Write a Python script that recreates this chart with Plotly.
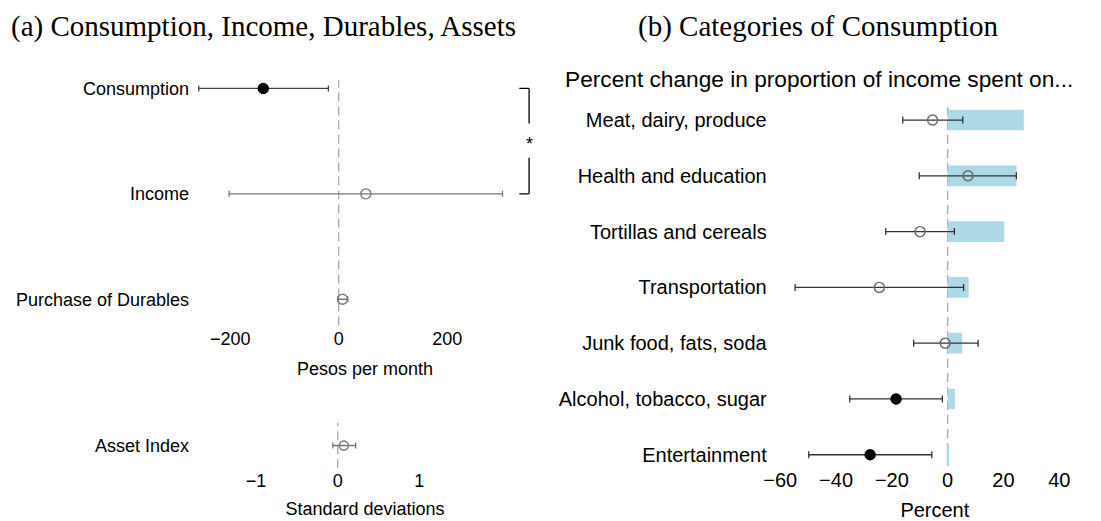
import plotly.graph_objects as go

# ---------------- data ----------------
left_cats = ["Consumption", "Income", "Purchase of Durables"]
left_est = [-139, 50, 7]
left_lo = [-258, -202, -1]
left_hi = [-19, 302, 17]
left_sig = [True, False, False]

asset_cats = ["Asset Index"]
asset_est = [0.075]
asset_lo = [-0.06]
asset_hi = [0.22]

right_cats = ["Meat, dairy, produce", "Health and education", "Tortillas and cereals",
              "Transportation", "Junk food, fats, soda", "Alcohol, tobacco, sugar",
              "Entertainment"]
right_bar = [27.3, 24.7, 20.3, 7.5, 5.2, 2.6, 0.5]
right_est = [-5.4, 7.3, -9.9, -24.5, -0.9, -18.5, -27.8]
right_lo = [-16.1, -10.2, -22.2, -54.7, -12.2, -35.1, -49.8]
right_hi = [5.4, 24.6, 2.4, 5.7, 10.9, -1.9, -5.7]
right_sig = [False, False, False, False, False, True, True]

pesos_ticks = [-200, 0, 200]
sd_ticks = [-1, 0, 1]
pct_ticks = [-60, -40, -20, 0, 20, 40]

# ---------------- layout helpers ----------------
W, H = 1101, 521
def xd(a, b):
    return [a / W, b / W]
def yd(top, bottom):
    return [1 - bottom / H, 1 - top / H]
def lab(v):
    return ("\u2212" + str(abs(v))) if v < 0 else str(v)

SANS = "Liberation Sans, Arial, sans-serif"
SERIF = "Liberation Serif, Times New Roman, serif"

fig = go.Figure()

def add_points(cats, est, lo, hi, sig, xa, ya, sig_col, ns_col, bar_col_sig, bar_col_ns, size_sig, size_ns, capw):
    for flag in (False, True):
        idx = [i for i in range(len(cats)) if sig[i] == flag]
        if not idx:
            continue
        fig.add_trace(go.Scatter(
            x=[est[i] for i in idx], y=[cats[i] for i in idx],
            xaxis=xa, yaxis=ya, mode="markers", showlegend=False,
            marker=dict(symbol="circle" if flag else "circle-open",
                        size=size_sig if flag else size_ns,
                        color=sig_col if flag else ns_col,
                        line=dict(width=1.4, color=sig_col if flag else ns_col)),
            error_x=dict(type="data", symmetric=False,
                         array=[hi[i] - est[i] for i in idx],
                         arrayminus=[est[i] - lo[i] for i in idx],
                         color=bar_col_sig if flag else bar_col_ns,
                         thickness=1.3, width=capw),
            cliponaxis=False,
        ))

fig.add_trace(go.Bar(
    x=right_bar, y=right_cats, orientation="h", xaxis="x3", yaxis="y3",
    width=0.37, marker=dict(color="#ADD8E6", line=dict(width=0)), showlegend=False,
))

add_points(left_cats, left_est, left_lo, left_hi, left_sig, "x", "y",
           "black", "#777777", "#444444", "#777777", 10, 10, 3)
add_points(asset_cats, asset_est, asset_lo, asset_hi, [False], "x2", "y2",
           "black", "#777777", "#444444", "#777777", 10, 9, 3)
add_points(right_cats, right_est, right_lo, right_hi, right_sig, "x3", "y3",
           "black", "#666666", "#333333", "#333333", 10, 10, 3.5)

axis_common = dict(showgrid=False, zeroline=False, showline=False, ticks="",
                   fixedrange=True, automargin=False)

fig.update_layout(
    width=W, height=H,
    margin=dict(l=0, r=0, t=0, b=0, autoexpand=False),
    paper_bgcolor="white", plot_bgcolor="white",
    font=dict(family=SANS, color="black"),
    showlegend=False,
    xaxis=dict(domain=xd(190, 540), range=[-274.1, 371.1], anchor="y",
               tickvals=pesos_ticks, ticktext=[lab(v) for v in pesos_ticks],
               tickfont=dict(size=18),
               title=dict(text="Pesos per month", font=dict(size=18), standoff=14),
               **axis_common),
    yaxis=dict(domain=yd(80, 325.6), anchor="x", type="category",
               categoryorder="array", categoryarray=left_cats[::-1],
               range=[-0.25, 2.08], tickfont=dict(size=18), **axis_common),
    xaxis2=dict(domain=xd(190, 540), range=[-1.810, 2.479], anchor="y2",
                tickvals=sd_ticks, ticktext=[lab(v) for v in sd_ticks],
                tickfont=dict(size=18),
                title=dict(text="Standard deviations", font=dict(size=18), standoff=12),
                **axis_common),
    yaxis2=dict(domain=yd(422.7, 468.3), anchor="x2", type="category",
                range=[-0.5, 0.5], tickfont=dict(size=18), **axis_common),
    xaxis3=dict(domain=xd(774.7, 1095), range=[-62, 52.8], anchor="y3",
                tickvals=pct_ticks, ticktext=[lab(v) for v in pct_ticks],
                tickfont=dict(size=20),
                title=dict(text="Percent", font=dict(size=20), standoff=18),
                **axis_common),
    yaxis3=dict(domain=yd(107.2, 465.9), anchor="x3", type="category",
                categoryorder="array", categoryarray=right_cats[::-1],
                range=[-0.2, 6.23], tickfont=dict(size=20), ticklabelstandoff=7,
                **axis_common),
)

dash = dict(color="#AAAAAA", width=1.3, dash="9px,5px")
for xr, yr in (("x", "y"), ("x2", "y2"), ("x3", "y3")):
    fig.add_shape(type="line", xref=xr, yref=yr + " domain", x0=0, x1=0, y0=0, y1=1,
                  line=dash, layer="below")

bk = dict(color="black", width=1.3)
fig.add_shape(type="line", xref="x", yref="y", x0=351, x1=351, y0=2, y1=1.668, line=bk)
fig.add_shape(type="line", xref="x", yref="y", x0=351, x1=351, y0=1.342, y1=1, line=bk)
fig.add_shape(type="line", xref="x", yref="y", x0=333, x1=351, y0=2, y1=2, line=bk)
fig.add_shape(type="line", xref="x", yref="y", x0=333, x1=351, y0=1, y1=1, line=bk)
fig.add_annotation(x=351, y=1.5, xref="x", yref="y", text="*", showarrow=False,
                   font=dict(size=18, family=SANS), yshift=-3)

fig.add_annotation(x=263.5 / W, y=1 - 26 / H, xref="paper", yref="paper",
                   text="(a) Consumption, Income, Durables, Assets", showarrow=False,
                   xanchor="center", yanchor="middle", font=dict(size=29, family=SERIF))
fig.add_annotation(x=818 / W, y=1 - 27 / H, xref="paper", yref="paper",
                   text="(b) Categories of Consumption", showarrow=False,
                   xanchor="center", yanchor="middle", font=dict(size=29, family=SERIF))
fig.add_annotation(x=563 / W, y=1 - 79 / H, xref="paper", yref="paper",
                   text="Percent change in proportion of income spent on...", showarrow=False,
                   xanchor="left", yanchor="middle", font=dict(size=22.7, family=SANS))

fig.write_html("out.html", config={"displayModeBar": False},
               post_script="document.body.style.margin='0';")
